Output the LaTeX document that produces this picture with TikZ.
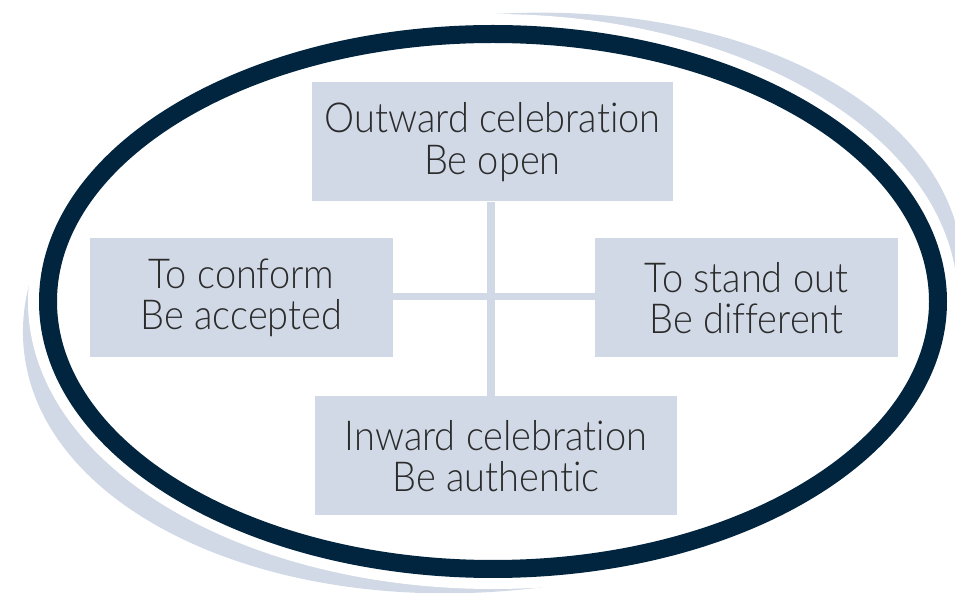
\documentclass[tikz,border=0pt]{standalone}
\usepackage{fontspec}
\setmainfont{Lato Light}[Ligatures=NoCommon, FakeStretch=0.92]
\definecolor{navy}{HTML}{02253F}
\definecolor{mist}{HTML}{D1D9E6}
\definecolor{ink}{HTML}{2B2B2B}

\begin{document}
\begin{tikzpicture}[
  card/.style={fill=mist, text=ink, minimum width=#1, minimum height=2.38cm,
               inner sep=0pt, align=center, font=\fontsize{23.5}{23.7}\selectfont},
  link/.style={draw=mist, line width=0.154cm}]

  \useasboundingbox (0,0) rectangle (19.1,11.86);

  % swoosh behind the ring, then the white gap and the ring itself
  \fill[mist, rotate around={5.65:(9.86,5.80)}] (9.86,5.80) ellipse [x radius=9.43, y radius=5.76];
  \draw[white, fill=white, line width=0.8cm] (9.86,5.83) ellipse [x radius=8.90, y radius=5.35];
  \draw[navy, line width=0.36cm] (9.86,5.83) ellipse [x radius=8.90, y radius=5.35];

  \node[card=7.22cm] (outward)  at (9.85, 9.02) {Outward celebration\\Be open};
  \node[card=6.06cm] (conform)  at (4.83, 5.90) {To conform\\Be accepted};
  \node[card=6.06cm] (standout) at (14.93,5.90) {To stand out\\Be different};
  \node[card=7.24cm] (inward)   at (9.92, 2.74) {Inward celebration\\Be authentic};

  \coordinate (hub) at (9.82,5.93);
  \draw[link] (outward.south -| hub) -- (inward.north -| hub);
  \draw[link] (conform.east |- hub) -- (standout.west |- hub);
\end{tikzpicture}
\end{document}
